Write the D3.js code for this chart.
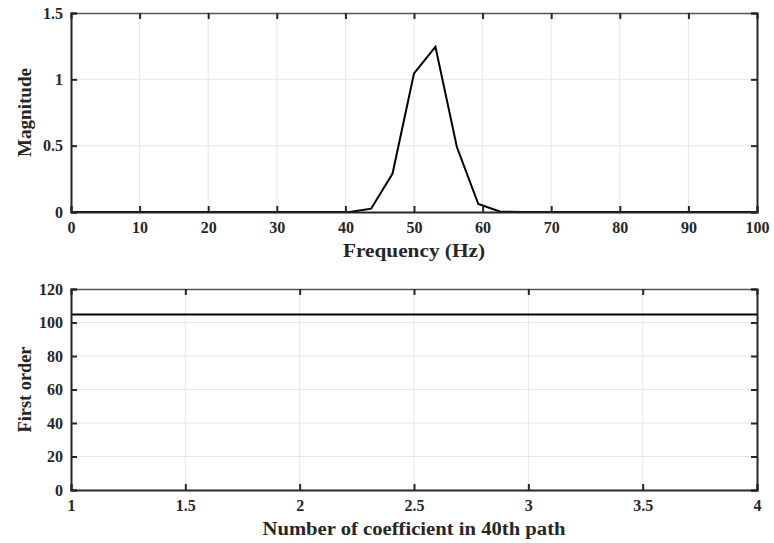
<!DOCTYPE html>
<html>
<head>
<meta charset="utf-8">
<script src="https://cdn.jsdelivr.net/npm/d3@7"></script>
<style>
  body { margin: 0; background: #fff; }
  text { font-family: "Liberation Serif", "Times New Roman", serif; font-weight: bold; }
</style>
</head>
<body>
<div id="chart"></div>
<script>
// spectrum (top panel)
const freq = [0, 3.125, 6.25, 9.375, 12.5, 15.625, 18.75, 21.875, 25, 28.125, 31.25, 34.375, 37.5, 40.625,
    43.75, 46.875, 50, 53.125, 56.25, 59.375, 62.5, 65.625, 68.75, 71.875, 75, 78.125, 81.25, 84.375,
    87.5, 90.625, 93.75, 96.875, 100];
const magnitude = [0, 0, 0, 0, 0, 0, 0, 0, 0, 0, 0, 0, 0, 0,
    0.025, 0.29, 1.045, 1.245, 0.49, 0.06, 0.004, 0, 0, 0, 0, 0, 0, 0,
    0, 0, 0, 0, 0];
const freqTicks = [0, 10, 20, 30, 40, 50, 60, 70, 80, 90, 100];
const magTicks = [0, 0.5, 1, 1.5];

// first order coefficient (bottom panel)
const coefIndex = [1, 2, 3, 4];
const firstOrder = [104.8, 104.8, 104.8, 104.8];
const coefTicks = [1, 1.5, 2, 2.5, 3, 3.5, 4];
const orderTicks = [0, 20, 40, 60, 80, 100, 120];

const W = 774, H = 543;
const svg = d3.select('#chart').append('svg')
    .attr('width', W)
    .attr('height', H);

function drawPanel(opt) {
    const x = d3.scaleLinear().domain(opt.xDomain).range([opt.left, opt.right]);
    const y = d3.scaleLinear().domain(opt.yDomain).range([opt.bottom, opt.top]);
    const g = svg.append('g');

    // grid
    g.selectAll('.vgrid').data(opt.xTicks.slice(1, -1)).enter().append('line')
        .attr('x1', d => x(d)).attr('x2', d => x(d))
        .attr('y1', opt.top).attr('y2', opt.bottom)
        .attr('stroke', '#e6e6e6').attr('stroke-width', 1);
    g.selectAll('.hgrid').data(opt.yTicks.slice(1, -1)).enter().append('line')
        .attr('x1', opt.left).attr('x2', opt.right)
        .attr('y1', d => y(d)).attr('y2', d => y(d))
        .attr('stroke', '#e6e6e6').attr('stroke-width', 1);

    // data line
    const line = d3.line().x(d => x(d[0])).y(d => y(d[1]));
    g.append('path')
        .datum(opt.xs.map((v, i) => [v, opt.ys[i]]))
        .attr('d', line)
        .attr('fill', 'none')
        .attr('stroke', '#000')
        .attr('stroke-width', 2);

    // axes with inward ticks, box on
    const tickLen = 6;
    const axB = d3.axisBottom(x).tickValues(opt.xTicks).tickSize(-tickLen).tickPadding(10).tickFormat(d3.format(''));
    const axT = d3.axisTop(x).tickValues(opt.xTicks).tickSize(-tickLen).tickFormat('');
    const axL = d3.axisLeft(y).tickValues(opt.yTicks).tickSize(-tickLen).tickPadding(8).tickFormat(d3.format(''));
    const axR = d3.axisRight(y).tickValues(opt.yTicks).tickSize(-tickLen).tickFormat('');

    const gb = g.append('g').attr('transform', `translate(0,${opt.bottom})`).call(axB);
    const gt = g.append('g').attr('transform', `translate(0,${opt.top})`).call(axT);
    const gl = g.append('g').attr('transform', `translate(${opt.left},0)`).call(axL);
    const gr = g.append('g').attr('transform', `translate(${opt.right},0)`).call(axR);

    [gb, gt, gl, gr].forEach(a => {
        a.select('.domain').attr('stroke', '#262626').attr('stroke-width', 2);
        a.selectAll('.tick line').attr('stroke', '#262626').attr('stroke-width', 2);
        a.selectAll('.tick text')
            .attr('fill', '#262626')
            .style('font-size', '16px')
            .style('font-family', '"Liberation Serif", serif')
            .style('font-weight', 'bold');
    });
    gt.select('.domain').attr('stroke', '#555').attr('stroke-width', 1.5);

    // labels
    g.append('text')
        .attr('x', (opt.left + opt.right) / 2)
        .attr('y', opt.bottom + 45)
        .attr('text-anchor', 'middle')
        .attr('fill', '#262626')
        .attr('textLength', opt.xLabelLen)
        .attr('lengthAdjust', 'spacingAndGlyphs')
        .style('font-size', '18px')
        .text(opt.xLabel);
    g.append('text')
        .attr('transform', `translate(${opt.left - 40},${(opt.top + opt.bottom) / 2}) rotate(-90)`)
        .attr('text-anchor', 'middle')
        .attr('fill', '#262626')
        .attr('textLength', opt.yLabelLen)
        .attr('lengthAdjust', 'spacingAndGlyphs')
        .style('font-size', '18px')
        .text(opt.yLabel);
}

drawPanel({
    left: 71, right: 757, top: 13, bottom: 212,
    xDomain: [0, 100], yDomain: [0, 1.5],
    xTicks: freqTicks, yTicks: magTicks,
    xs: freq, ys: magnitude,
    xLabel: 'Frequency (Hz)', yLabel: 'Magnitude',
    xLabelLen: 142, yLabelLen: 89
});

drawPanel({
    left: 71, right: 757, top: 289, bottom: 490,
    xDomain: [1, 4], yDomain: [0, 120],
    xTicks: coefTicks, yTicks: orderTicks,
    xs: coefIndex, ys: firstOrder,
    xLabel: 'Number of coefficient in 40th path', yLabel: 'First order',
    xLabelLen: 303, yLabelLen: 86
});
</script>
</body>
</html>
